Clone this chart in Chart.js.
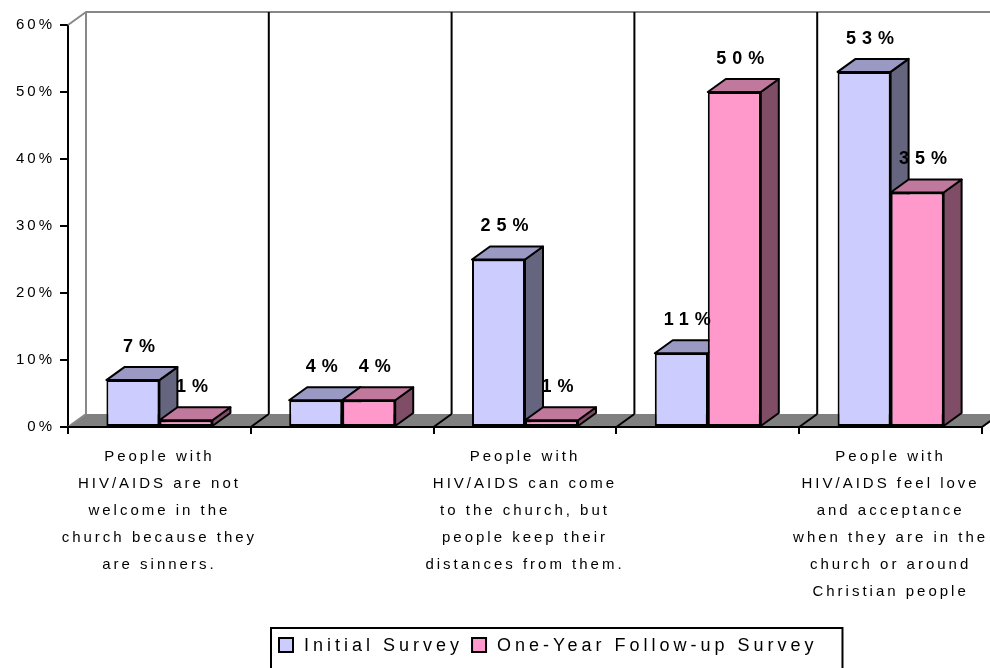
<!DOCTYPE html>
<html>
<head>
<meta charset="utf-8">
<script src="https://cdn.jsdelivr.net/npm/chart.js@4"></script>
<style>
  body { margin: 0; background: #fff; }
</style>
</head>
<body>
<canvas id="surveyChart" width="990" height="668"></canvas>
<script>
// Survey answers, in percent
const categories = [
  ['People with', 'HIV/AIDS are not', 'welcome in the', 'church because they', 'are sinners.'],
  '',
  ['People with', 'HIV/AIDS can come', 'to the church, but', 'people keep their', 'distances from them.'],
  '',
  ['People with', 'HIV/AIDS feel love', 'and acceptance', 'when they are in the', 'church or around', 'Christian people']
];
const initialSurvey = [7, 4, 25, 11, 53];
const followUpSurvey = [1, 4, 1, 50, 35];
const seriesNames = ['Initial Survey', 'One-Year Follow-up Survey'];

const FONT = "'Liberation Sans', Arial, sans-serif";
const DX = 18;  // depth of the 3D look
const DY = 13;

Chart.defaults.font.family = FONT;
Chart.defaults.color = '#000';

function poly(ctx, pts, fill) {
  ctx.beginPath();
  ctx.moveTo(pts[0][0], pts[0][1]);
  for (let i = 1; i < pts.length; i++) ctx.lineTo(pts[i][0], pts[i][1]);
  ctx.closePath();
  ctx.fillStyle = fill;
  ctx.fill();
  ctx.stroke();
}

// Floor, walls and the top/side faces of each bar (fronts are the real bars)
const bars3d = {
  id: 'bars3d',
  beforeLayout(chart) { chart.ctx.letterSpacing = '3px'; },
  beforeDraw(chart) { chart.ctx.letterSpacing = '3px'; },
  beforeDatasetsDraw(chart) {
    const {ctx, chartArea: {left, right, top, bottom}} = chart;
    const xScale = chart.scales.x;
    ctx.save();
    ctx.lineWidth = 2;
    ctx.lineJoin = 'round';

    // floor
    ctx.fillStyle = '#808080';
    ctx.beginPath();
    ctx.moveTo(left, bottom);
    ctx.lineTo(left + DX, bottom - DY);
    ctx.lineTo(right + DX, bottom - DY);
    ctx.lineTo(right, bottom);
    ctx.closePath();
    ctx.fill();

    // wall outline
    ctx.strokeStyle = '#888';
    ctx.beginPath();
    ctx.moveTo(left, bottom);
    ctx.lineTo(left + DX, bottom - DY);
    ctx.lineTo(left + DX, top - DY);
    ctx.lineTo(right + DX, top - DY);
    ctx.moveTo(left, top);
    ctx.lineTo(left + DX, top - DY);
    ctx.stroke();

    // category dividers on back wall and floor
    ctx.strokeStyle = '#000';
    ctx.beginPath();
    for (let i = 1; i <= categories.length; i++) {
      const xb = xScale.getPixelForValue(i - 0.5);
      ctx.moveTo(xb, bottom);
      ctx.lineTo(xb + DX, bottom - DY);
      if (i < categories.length) {
        ctx.moveTo(xb + DX, bottom - DY);
        ctx.lineTo(xb + DX, top - DY);
      }
    }
    ctx.moveTo(left, bottom);
    ctx.lineTo(right, bottom);
    ctx.stroke();

    // bar tops and sides, front to back order per category
    for (let i = 0; i < categories.length; i++) {
      chart.data.datasets.forEach((ds, d) => {
        const bar = chart.getDatasetMeta(d).data[i];
        const half = bar.width / 2;
        const l = bar.x - half, r = bar.x + half, y = bar.y, b = bar.base;
        poly(ctx, [[r, y], [r + DX, y - DY], [r + DX, b - DY], [r, b]], ds.sideColor);
        poly(ctx, [[l, y], [l + DX, y - DY], [r + DX, y - DY], [r, y]], ds.topColor);
      });
    }
    ctx.restore();
  },
  afterDatasetsDraw(chart) {
    const {ctx} = chart;
    ctx.save();
    ctx.font = `bold 18px ${FONT}`;
    ctx.letterSpacing = '6px';
    ctx.textAlign = 'center';
    ctx.textBaseline = 'middle';
    ctx.fillStyle = '#000';
    chart.data.datasets.forEach((ds, d) => {
      chart.getDatasetMeta(d).data.forEach((bar, i) => {
        ctx.fillText(ds.data[i] + '%', bar.x + 9, bar.y - 33);
      });
    });
    ctx.restore();
  }
};

// Boxed legend under the chart
const boxLegend = {
  id: 'boxLegend',
  afterDraw(chart) {
    const {ctx} = chart;
    ctx.save();
    ctx.font = `18px ${FONT}`;
    ctx.letterSpacing = '4px';
    ctx.textBaseline = 'middle';
    ctx.lineWidth = 2;
    ctx.strokeStyle = '#000';
    let x = 279;
    chart.data.datasets.forEach(ds => {
      ctx.fillStyle = ds.backgroundColor;
      ctx.fillRect(x, 638, 14, 14);
      ctx.strokeRect(x, 638, 14, 14);
      ctx.fillStyle = '#000';
      ctx.fillText(ds.label, x + 25, 646);
      x += 25 + ctx.measureText(ds.label).width + 9;
    });
    ctx.strokeRect(271, 628, x + 16 - 271, 60);
    ctx.restore();
  }
};

const ctx = document.getElementById('surveyChart').getContext('2d');
new Chart(ctx, {
  type: 'bar',
  data: {
    labels: categories,
    datasets: [
      {
        label: seriesNames[0],
        data: initialSurvey,
        backgroundColor: '#CCCCFF',
        topColor: '#9999C4',
        sideColor: '#65657F'
      },
      {
        label: seriesNames[1],
        data: followUpSurvey,
        backgroundColor: '#FF99CC',
        topColor: '#C0789C',
        sideColor: '#804D66'
      }
    ].map(ds => Object.assign(ds, {
      borderColor: '#000',
      borderWidth: 2,
      borderSkipped: false,
      categoryPercentage: 0.58,
      barPercentage: 1.0
    }))
  },
  options: {
    responsive: false,
    animation: false,
    events: [],
    layout: {padding: {top: 25, right: 8, left: 0, bottom: 0}},
    plugins: {
      legend: {display: false},
      tooltip: {enabled: false}
    },
    scales: {
      x: {
        grid: {drawOnChartArea: false, color: '#000', lineWidth: 2, tickLength: 7},
        border: {color: '#000', width: 2},
        ticks: {
          autoSkip: false,
          maxRotation: 0,
          minRotation: 0,
          padding: 9,
          color: '#000',
          font: {size: 15, lineHeight: 1.8}
        },
        afterFit(scale) {
          scale.height = 241;
          scale.paddingLeft = 0;
          scale.paddingRight = 0;
        }
      },
      y: {
        min: 0,
        max: 60,
        grid: {drawOnChartArea: false, color: '#000', lineWidth: 2, tickLength: 8},
        border: {color: '#000', width: 2},
        ticks: {
          stepSize: 10,
          padding: 5,
          color: '#000',
          font: {size: 15},
          callback: v => v + '%'
        },
        afterFit(scale) {
          scale.width = 68;
          scale.paddingTop = 0;
          scale.paddingBottom = 0;
        }
      }
    }
  },
  plugins: [bars3d, boxLegend]
});
</script>
</body>
</html>
